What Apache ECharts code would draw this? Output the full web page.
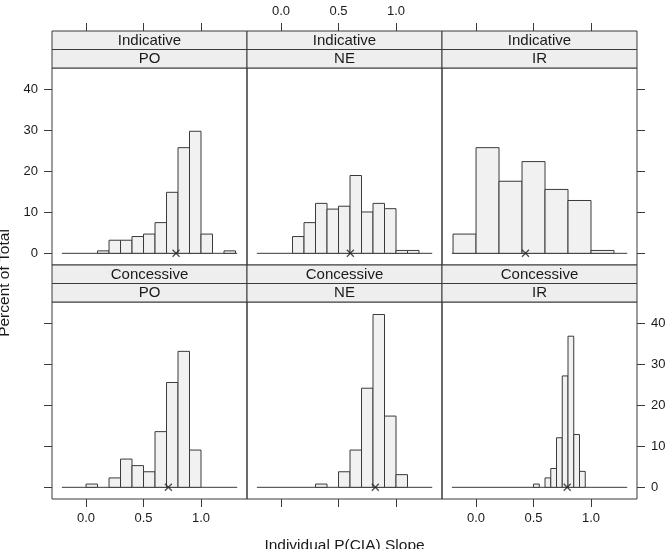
<!DOCTYPE html>
<html>
<head>
<meta charset="utf-8">
<script src="https://cdn.jsdelivr.net/npm/echarts@6/dist/echarts.min.js"></script>
<style>
html,body{margin:0;padding:0;background:#fff}
#main{width:667px;height:549px}
</style>
</head>
<body>
<div id="main"></div>
<script>
// facet labels
var moodLabels = ['Indicative', 'Concessive'];
var groupLabels = ['PO', 'NE', 'IR'];
var xTicks = [0, 0.5, 1];
var yTicks = [0, 10, 20, 30, 40];

// histogram bin edges + percent of total for each panel
var indPOEdges = [0.1, 0.2, 0.3, 0.4, 0.5, 0.6, 0.7, 0.8, 0.9, 1.0, 1.1, 1.2, 1.3];
var indPOPct   = [0.6, 3.2, 3.2, 4.1, 4.7, 7.5, 14.9, 25.8, 29.8, 4.7, 0, 0.6];
var indNEEdges = [0.1, 0.2, 0.3, 0.4, 0.5, 0.6, 0.7, 0.8, 0.9, 1.0, 1.1, 1.2];
var indNEPct   = [4.1, 7.5, 12.2, 10.8, 11.5, 19.0, 10.1, 12.2, 10.9, 0.7, 0.7];
var indIREdges = [-0.2, 0.0, 0.2, 0.4, 0.6, 0.8, 1.0, 1.2];
var indIRPct   = [4.7, 25.8, 17.6, 22.4, 15.6, 12.9, 0.7];
var conPOEdges = [0.0, 0.1, 0.2, 0.3, 0.4, 0.5, 0.6, 0.7, 0.8, 0.9, 1.0];
var conPOPct   = [0.8, 0, 2.3, 6.9, 5.3, 3.8, 13.6, 25.6, 33.2, 9.1];
var conNEEdges = [0.3, 0.4, 0.5, 0.6, 0.7, 0.8, 0.9, 1.0, 1.1];
var conNEPct   = [0.8, 0, 3.8, 9.1, 24.2, 42.2, 17.4, 3.1];
var conIREdges = [0.5, 0.55, 0.6, 0.65, 0.7, 0.75, 0.8, 0.85, 0.9, 0.95];
var conIRPct   = [0.8, 0, 2.3, 4.6, 12.1, 27.2, 36.9, 12.9, 3.9];

// mean slope marker (x) per panel, and zero reference line extent
var meanSlope = [0.783, 0.603, 0.43, 0.716, 0.82, 0.793];
var zeroLine = [-0.21, 1.315];

var panelEdges = [indPOEdges, indNEEdges, indIREdges, conPOEdges, conNEEdges, conIREdges];
var panelPct = [indPOPct, indNEPct, indIRPct, conPOPct, conNEPct, conIRPct];

// layout
var fontFam = '"Liberation Sans", Arial, Helvetica, sans-serif';
var txtCol = '#1a1a1a';
var lineCol = '#3a3a3a';
var panelW = 195, panelH = 197, stripH = 18.5;
var left0 = 52;
var rowTop = [68, 302];

function renderBar(params, api){
	var h = api.value(2);
	if(!h){
		return null;
	}
	var p0 = api.coord([api.value(0), 0]);
	var p1 = api.coord([api.value(1), h]);
	return {
		type: 'rect',
		shape: {x: p0[0], y: p1[1], width: p1[0] - p0[0], height: p0[1] - p1[1]},
		style: {fill: '#f1f1f1', stroke: lineCol, lineWidth: 1}
	};
}

var grids = [], xAxes = [], yAxes = [], series = [], graphics = [];

for(var i = 0; i < 6; i++){
	var row = Math.floor(i / 3), col = i % 3;
	var gl = left0 + col * panelW, gt = rowTop[row];
	grids.push({left: gl, top: gt, width: panelW, height: panelH, show: true,
		outerBoundsMode: 'none', containLabel: false,
		borderColor: lineCol, borderWidth: 1, backgroundColor: 'transparent'});

	// lattice style alternating axes
	var xLab = (row == 0) ? (col == 1) : (col != 1);
	xAxes.push({
		type: 'value', gridIndex: i, min: -0.296, max: 1.40,
		position: row == 0 ? 'top' : 'bottom',
		offset: row == 0 ? stripH * 2 : 0,
		axisLine: {show: false, onZero: false},
		splitLine: {show: false},
		axisTick: {show: true, inside: false, length: 8, customValues: xTicks,
			lineStyle: {color: lineCol, width: 1}},
		axisLabel: {show: xLab, customValues: xTicks, margin: 13, fontSize: 13,
			color: txtCol, fontFamily: fontFam,
			formatter: function(v){ return v.toFixed(1); }}
	});
	var yShow = col != 1;
	var yLab = (col == 0 && row == 0) || (col == 2 && row == 1);
	yAxes.push({
		type: 'value', gridIndex: i, min: -2.85, max: 45.25,
		show: yShow,
		position: col == 2 ? 'right' : 'left',
		axisLine: {show: false, onZero: false},
		splitLine: {show: false},
		axisTick: {show: true, inside: false, length: 8, customValues: yTicks,
			lineStyle: {color: lineCol, width: 1}},
		axisLabel: {show: yLab, customValues: yTicks, margin: 14, fontSize: 13,
			color: txtCol, fontFamily: fontFam}
	});

	var bars = [];
	var ed = panelEdges[i], pc = panelPct[i];
	for(var k = 0; k < pc.length; k++){
		bars.push([ed[k], ed[k + 1], pc[k]]);
	}
	series.push({
		type: 'line', xAxisIndex: i, yAxisIndex: i, silent: true,
		data: [[zeroLine[0], 0], [zeroLine[1], 0]],
		symbol: 'none', lineStyle: {color: lineCol, width: 1}, z: 1
	});
	series.push({
		type: 'custom', xAxisIndex: i, yAxisIndex: i, silent: true,
		renderItem: renderBar, encode: {x: [0, 1], y: 2}, data: bars, z: 2
	});
	series.push({
		type: 'scatter', xAxisIndex: i, yAxisIndex: i, silent: true,
		data: [[meanSlope[i], 0]],
		symbol: 'path://M0,0L10,10M10,0L0,10', symbolSize: 7,
		itemStyle: {color: 'rgba(0,0,0,0)', borderColor: '#222', borderWidth: 1.3}, z: 3
	});

	// strips
	var st = gt - stripH * 2;
	var labs = [moodLabels[row], groupLabels[col]];
	for(var s = 0; s < 2; s++){
		graphics.push({
			type: 'rect', silent: true,
			shape: {x: gl, y: st + s * stripH, width: panelW, height: stripH},
			style: {fill: '#eeeeee', stroke: lineCol, lineWidth: 1}
		});
		graphics.push({
			type: 'text', silent: true,
			x: gl + panelW / 2, y: st + s * stripH + stripH / 2 + 0.5,
			style: {text: labs[s], align: 'center', verticalAlign: 'middle',
				fontSize: 15, fontFamily: fontFam, fill: txtCol}
		});
	}
}

// axis titles
graphics.push({
	type: 'text', silent: true, x: left0 + panelW * 1.5, y: 546,
	style: {text: 'Individual P(CIA) Slope', align: 'center', verticalAlign: 'middle',
		fontSize: 15.5, fontFamily: fontFam, fill: txtCol}
});
graphics.push({
	type: 'text', silent: true, x: 5, y: 283, rotation: Math.PI / 2,
	style: {text: 'Percent of Total', align: 'center', verticalAlign: 'middle',
		fontSize: 15.5, fontFamily: fontFam, fill: txtCol}
});

var myChart = echarts.init(document.getElementById('main'), null, {renderer: 'canvas'});
myChart.setOption({
	animation: false,
	backgroundColor: '#fff',
	grid: grids,
	xAxis: xAxes,
	yAxis: yAxes,
	series: series,
	graphic: graphics
});
</script>
</body>
</html>
